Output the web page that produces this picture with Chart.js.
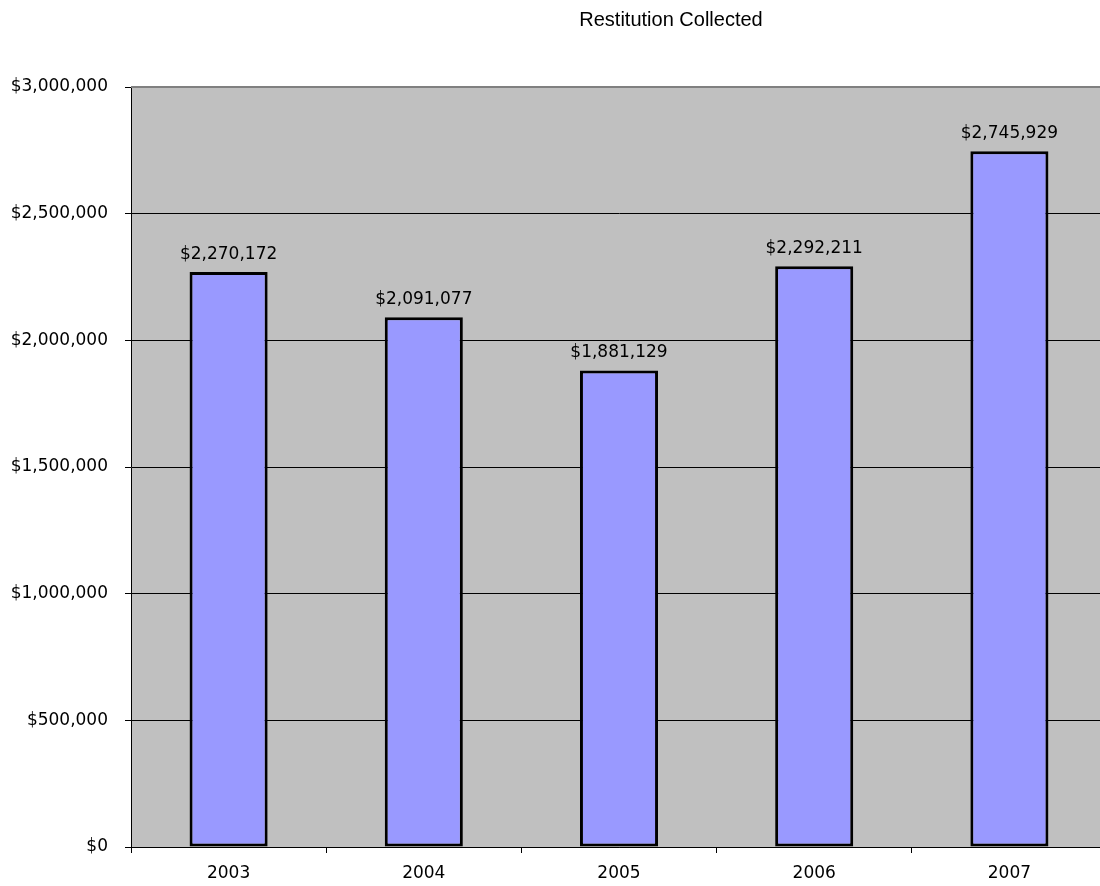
<!DOCTYPE html>
<html>
<head>
<meta charset="utf-8">
<script src="https://cdn.jsdelivr.net/npm/chart.js@4/dist/chart.umd.min.js"></script>
<style>
  html, body { margin: 0; padding: 0; overflow: hidden; background: #fff; }
  #wrap { width: 1108px; height: 886px; }
</style>
</head>
<body>
<div id="wrap"><canvas id="myChart" width="1108" height="886"></canvas></div>
<script>
// data
var years = ['2003', '2004', '2005', '2006', '2007'];
var collected = [2270172, 2091077, 1881129, 2292211, 2745929];
var yTicks = [0, 500000, 1000000, 1500000, 2000000, 2500000, 3000000];

var labelFont = '17px "DejaVu Sans"';

function money(v) {
  return '$' + Number(v).toLocaleString('en-US');
}

// gray plot area, gray top border, title and value labels
var decor = {
  id: 'decor',
  beforeDraw: function (chart) {
    var a = chart.chartArea;
    var c = chart.ctx;
    c.save();
    c.fillStyle = '#c0c0c0';
    c.fillRect(a.left, a.top, a.right - a.left, a.bottom - a.top);
    c.restore();
  },
  afterDraw: function (chart) {
    var a = chart.chartArea;
    var c = chart.ctx;
    c.save();
    c.strokeStyle = '#808080';
    c.lineWidth = 2;
    c.beginPath();
    c.moveTo(a.left, a.top);
    c.lineTo(a.right, a.top);
    c.stroke();

    c.fillStyle = '#000';
    c.font = '20px "Liberation Sans"';
    c.textAlign = 'center';
    c.textBaseline = 'middle';
    c.fillText('Restitution Collected', 671, 20);

    c.font = labelFont;
    c.textBaseline = 'bottom';
    chart.getDatasetMeta(0).data.forEach(function (bar, i) {
      c.fillText(money(collected[i]), bar.x, bar.y - 9);
    });
    c.restore();
  }
};

var config = {
  type: 'bar',
  data: {
    labels: years,
    datasets: [{
      data: collected,
      backgroundColor: '#9999ff',
      borderColor: '#000',
      borderWidth: 3,
      borderSkipped: false,
      barPercentage: 0.4,
      categoryPercentage: 1
    }]
  },
  options: {
    responsive: false,
    animation: false,
    layout: { padding: { top: 87, right: 1, left: 0, bottom: 0 } },
    plugins: {
      legend: { display: false },
      title: { display: false },
      tooltip: { enabled: false }
    },
    scales: {
      x: {
        offset: true,
        grid: {
          offset: true,
          drawOnChartArea: false,
          drawTicks: true,
          tickLength: 6,
          tickColor: '#000'
        },
        border: { color: '#000', width: 1 },
        ticks: { color: '#000', font: { family: 'DejaVu Sans', size: 17 }, padding: 10 },
        afterFit: function (s) { s.height = 39; }
      },
      y: {
        min: 0,
        max: 3000000,
        afterBuildTicks: function (s) {
          s.ticks = yTicks.map(function (v) { return { value: v }; });
        },
        grid: {
          color: '#000',
          lineWidth: 1,
          drawTicks: true,
          tickLength: 6,
          tickColor: '#000'
        },
        border: { color: '#000', width: 1 },
        ticks: {
          color: '#000',
          font: { family: 'DejaVu Sans', size: 17 },
          padding: 17,
          callback: function (v) { return money(v); }
        },
        afterFit: function (s) { s.width = 131; }
      }
    }
  },
  plugins: [decor]
};

var myChart = new Chart(document.getElementById('myChart'), config);
</script>
</body>
</html>
